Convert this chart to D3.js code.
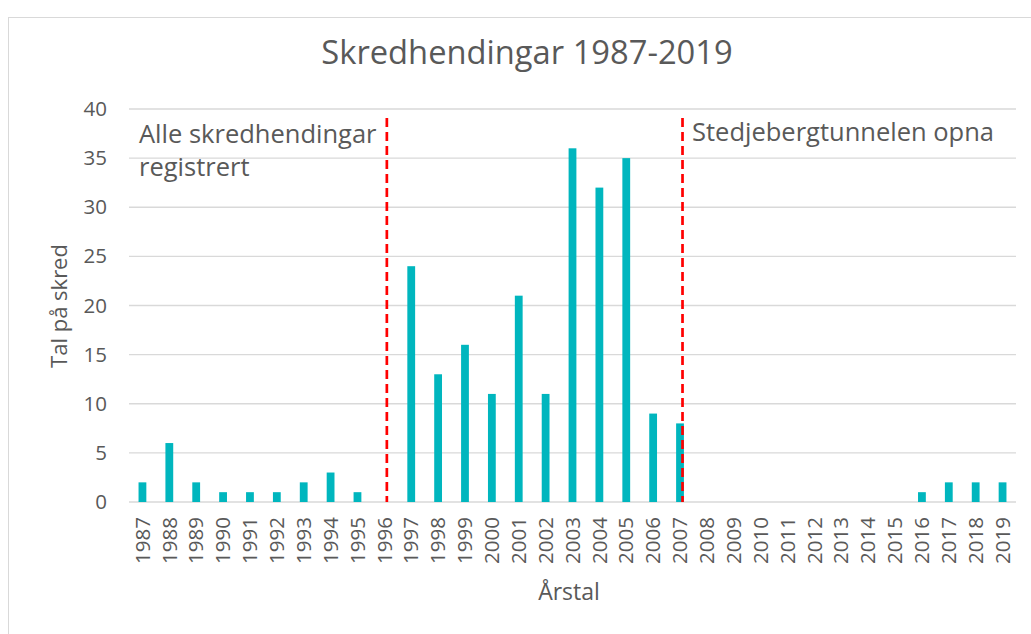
<!DOCTYPE html>
<html lang="no">
  <head>
    <meta charset="utf-8">
    <title>Skredhendingar 1987-2019</title>
    <script src="https://d3js.org/d3.v7.min.js"></script>
    <style>
      body { margin: 0; background: #fff; }
      text { font-family: "Open Sans", "Noto Sans", sans-serif; fill: #595959; }
    </style>
  </head>
  <body>
    <div id="chart"></div>
    <script type="text/javascript">
      // chart data
      const years = ["1987","1988","1989","1990","1991","1992","1993","1994","1995","1996",
                     "1997","1998","1999","2000","2001","2002","2003","2004","2005","2006",
                     "2007","2008","2009","2010","2011","2012","2013","2014","2015","2016",
                     "2017","2018","2019"];
      const slides = [2, 6, 2, 1, 1, 1, 2, 3, 1, 0,
                      24, 13, 16, 11, 21, 11, 36, 32, 35, 9,
                      8, 0, 0, 0, 0, 0, 0, 0, 0, 1,
                      2, 2, 2];
      const yTicks = [0, 5, 10, 15, 20, 25, 30, 35, 40];
      const markerYears = ["1996", "2007"];
      const markerLabels = [["Alle skredhendingar", "registrert"], ["Stedjebergtunnelen opna"]];

      const width = 1031, height = 634;
      const margin = {left: 129, right: 15, top: 109, bottom: 132};

      var svg = d3.select("#chart")
        .append("svg")
        .attr("width", width)
        .attr("height", height);

      // chart border
      svg.append("rect")
        .attr("x", 8.5)
        .attr("y", 17.5)
        .attr("width", width + 20)
        .attr("height", height)
        .attr("fill", "none")
        .attr("stroke", "#d9d9d9");

      var x = d3.scaleBand()
        .domain(years)
        .range([margin.left, width - margin.right]);

      var y = d3.scaleLinear()
        .domain([0, 40])
        .range([height - margin.bottom, margin.top]);

      // gridlines
      svg.append("g")
        .selectAll("line")
        .data(yTicks)
        .enter()
        .append("line")
          .attr("x1", margin.left)
          .attr("x2", width - margin.right)
          .attr("y1", d => y(d))
          .attr("y2", d => y(d))
          .attr("stroke", "#d9d9d9")
          .attr("stroke-width", 1.3);

      // y axis labels
      var yAxis = d3.axisLeft(y).tickValues(yTicks).tickSize(0).tickPadding(0);
      var gy = svg.append("g")
        .attr("transform", "translate(107,0)")
        .call(yAxis);
      gy.select(".domain").remove();
      gy.selectAll("text")
        .style("font-size", "20.5px")
        .attr("fill", "#595959")
        .style("font-family", "'Open Sans', sans-serif");

      // bars
      var barW = 7.8;
      svg.append("g")
        .selectAll("rect")
        .data(slides)
        .enter()
        .append("rect")
          .attr("x", (d, i) => x(years[i]) + x.bandwidth() / 2 - barW / 2)
          .attr("y", d => y(d))
          .attr("width", barW)
          .attr("height", d => y(0) - y(d))
          .attr("fill", "#00b6be");

      // x axis labels
      var xAxis = d3.axisBottom(x).tickSize(0).tickPadding(0);
      var gx = svg.append("g")
        .attr("transform", "translate(0," + (height - margin.bottom) + ")")
        .call(xAxis);
      gx.select(".domain").remove();
      gx.selectAll("text")
        .attr("transform", "rotate(-90)")
        .attr("x", -15)
        .attr("y", 0)
        .attr("dy", "0.35em")
        .style("text-anchor", "end")
        .style("font-size", "20.5px")
        .attr("fill", "#595959")
        .style("font-family", "'Open Sans', sans-serif");

      // marker lines
      svg.append("g")
        .selectAll("line")
        .data(markerYears)
        .enter()
        .append("line")
          .attr("x1", d => x(d) + x.bandwidth() / 2 + 2.5)
          .attr("x2", d => x(d) + x.bandwidth() / 2 + 2.5)
          .attr("y1", 118)
          .attr("y2", y(0))
          .attr("stroke", "#ff0000")
          .attr("stroke-width", 2.7)
          .attr("stroke-dasharray", "9,5");

      // marker annotations
      svg.append("text")
        .attr("x", 139)
        .attr("y", 143)
        .style("font-size", "25.5px")
        .selectAll("tspan")
        .data(markerLabels[0])
        .enter()
        .append("tspan")
          .attr("x", 139)
          .attr("dy", (d, i) => i === 0 ? 0 : 33)
          .text(d => d);

      svg.append("text")
        .attr("x", 692)
        .attr("y", 141)
        .style("font-size", "25.5px")
        .text(markerLabels[1][0]);

      // title
      svg.append("text")
        .attr("x", 527)
        .attr("y", 64)
        .attr("text-anchor", "middle")
        .style("font-size", "32.7px")
        .text("Skredhendingar 1987-2019");

      // axis titles
      svg.append("text")
        .attr("x", 569)
        .attr("y", 600)
        .attr("text-anchor", "middle")
        .style("font-size", "23px")
        .text("Årstal");

      svg.append("text")
        .attr("transform", "translate(67,306)rotate(-90)")
        .attr("text-anchor", "middle")
        .style("font-size", "22px")
        .text("Tal på skred");
    </script>
  </body>
</html>
